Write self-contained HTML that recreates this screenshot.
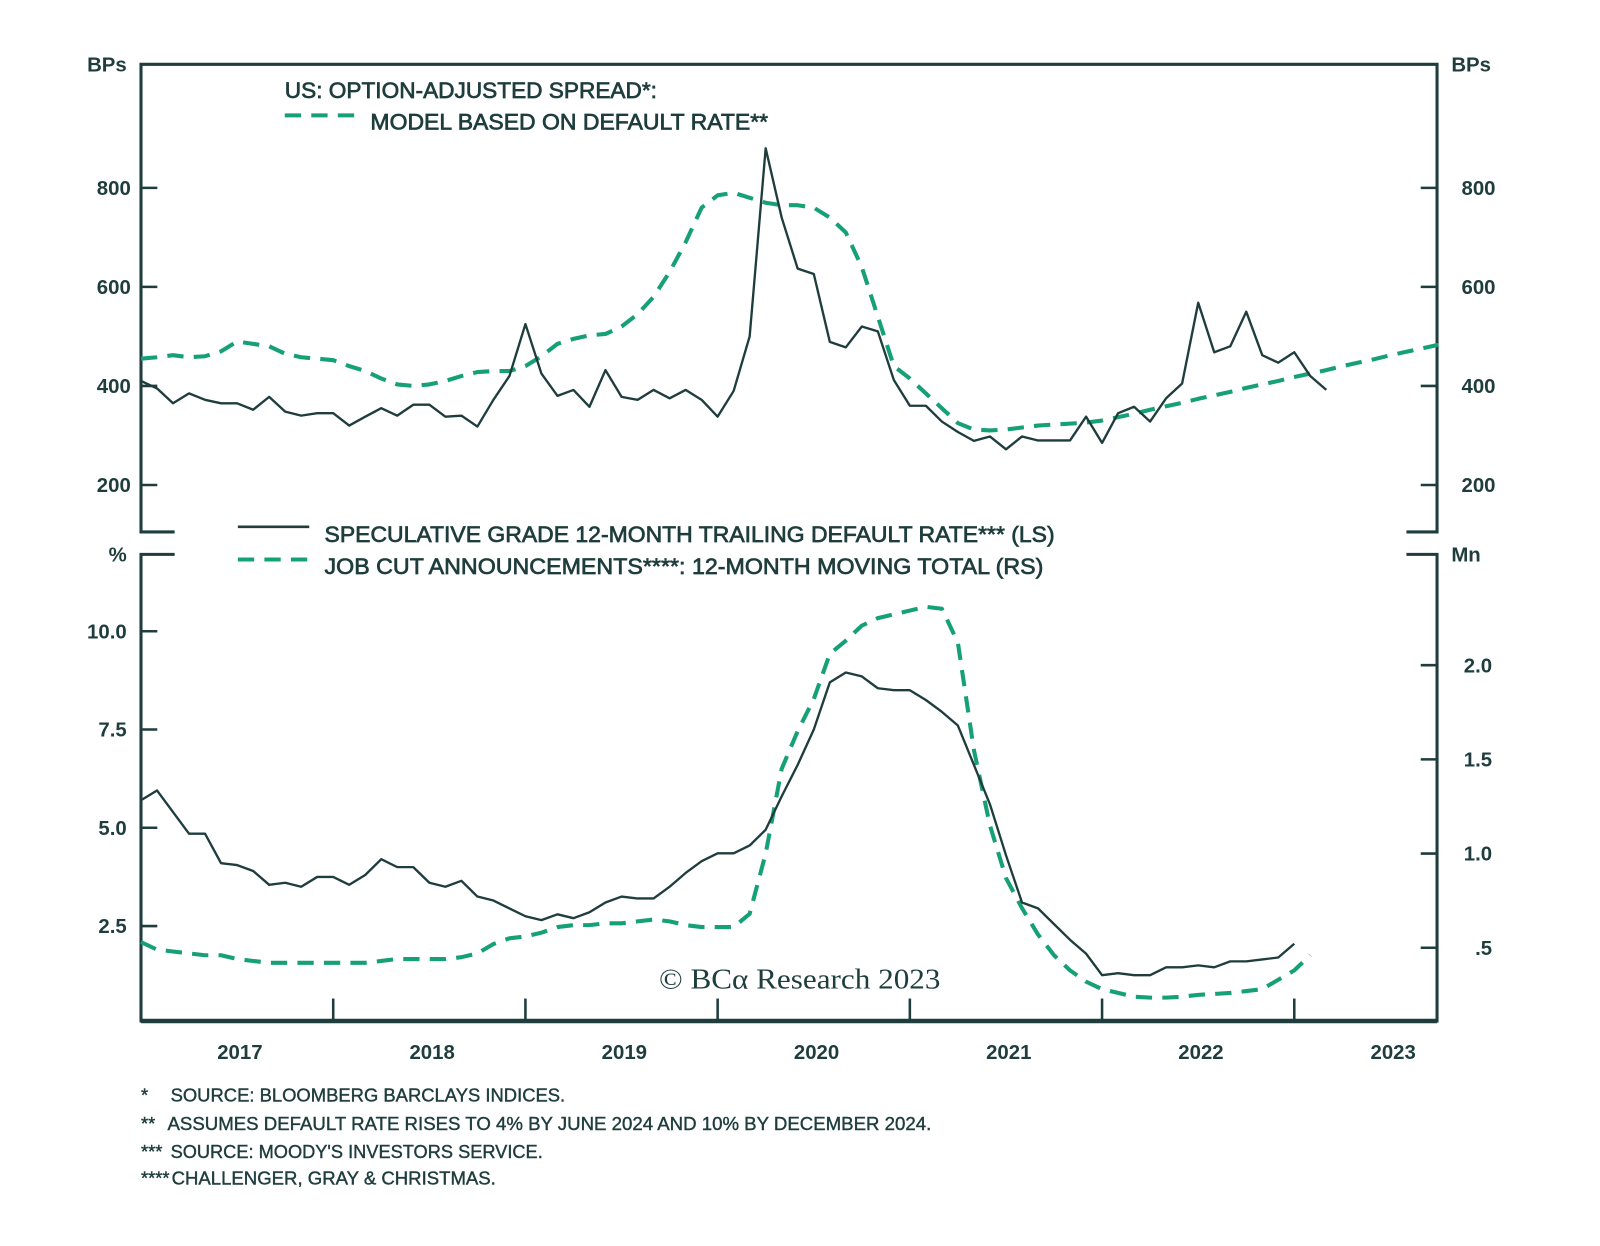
<!DOCTYPE html>
<html><head><meta charset="utf-8"><style>
html,body{margin:0;padding:0;background:#fff;}
svg{display:block;}
text{font-family:"Liberation Sans",sans-serif;fill:#1f3d3d;}
.tick{font-weight:bold;font-size:20px;}
.leg{font-size:22px;stroke:#1f3d3d;stroke-width:0.7px;}
.fn{font-size:18px;stroke:#1f3d3d;stroke-width:0.4px;}
</style></head><body>
<svg id="chart" width="1600" height="1246" viewBox="0 0 1600 1246" xmlns="http://www.w3.org/2000/svg">
<g id="root" transform="translate(1.3,0) scale(1.0197,1.021)">
<g id="frame" stroke="#1f3d3d" fill="none" stroke-width="3">
<path d="M170,521 H137 V63 H1408 V521 H1378"/>
<path d="M170,543 H137 V1000 H1408 V543 H1378"/>
<line x1="137" y1="1000" x2="1408" y2="1000" stroke-width="4.5"/>
</g>
<g id="ticks" stroke="#1f3d3d" stroke-width="2.5"></g>
<g id="labels"></g>
<g id="series"></g>
<text class="leg" x="278" y="96" textLength="365" lengthAdjust="spacingAndGlyphs">US: OPTION-ADJUSTED SPREAD*:</text>
<line x1="278" y1="113" x2="350" y2="113" stroke="#16a077" stroke-width="4" stroke-dasharray="16 10"/>
<text class="leg" x="362" y="127" textLength="390" lengthAdjust="spacingAndGlyphs">MODEL BASED ON DEFAULT RATE**</text>
<line x1="232" y1="516" x2="302" y2="516" stroke="#1f3d3d" stroke-width="2.5"/>
<text class="leg" x="317" y="531" textLength="716" lengthAdjust="spacingAndGlyphs">SPECULATIVE GRADE 12-MONTH TRAILING DEFAULT RATE*** (LS)</text>
<line x1="232" y1="548" x2="302" y2="548" stroke="#16a077" stroke-width="4" stroke-dasharray="16 10"/>
<text class="leg" x="317" y="562" textLength="705" lengthAdjust="spacingAndGlyphs">JOB CUT ANNOUNCEMENTS****: 12-MONTH MOVING TOTAL (RS)</text>
<text x="645" y="968" style="font-family:'Liberation Serif',serif;font-size:28px" textLength="276" lengthAdjust="spacingAndGlyphs">© BCα Research 2023</text>
<g>
<text class="fn" x="137" y="1079">*</text>
<text class="fn" x="166" y="1079" textLength="387" lengthAdjust="spacingAndGlyphs">SOURCE: BLOOMBERG BARCLAYS INDICES.</text>
<text class="fn" x="137" y="1107">**</text>
<text class="fn" x="163" y="1107" textLength="749" lengthAdjust="spacingAndGlyphs">ASSUMES DEFAULT RATE RISES TO 4% BY JUNE 2024 AND 10% BY DECEMBER 2024.</text>
<text class="fn" x="137" y="1134">***</text>
<text class="fn" x="166" y="1134" textLength="365" lengthAdjust="spacingAndGlyphs">SOURCE: MOODY'S INVESTORS SERVICE.</text>
<text class="fn" x="137" y="1160">****</text>
<text class="fn" x="167" y="1160" textLength="318" lengthAdjust="spacingAndGlyphs">CHALLENGER, GRAY &amp; CHRISTMAS.</text>
</g>
</g>
</svg>
<script>
const spreadOAS = [410,395,365,385,372,365,365,352,378,348,340,345,345,320,338,355,340,362,362,338,340,318,372,420,525,425,380,392,358,432,378,372,392,375,392,372,338,390,500,880,740,637,626,489,478,520,510,412,360,360,328,307,289,298,272,298,290,290,290,338,285,345,358,328,375,405,568,468,480,550,462,447,468,420,392];
const spreadModel = [455,458,462,458,460,470,490,485,480,465,458,455,452,440,430,415,403,400,403,410,420,428,430,430,440,460,485,495,502,505,520,545,580,630,690,760,785,790,780,770,765,765,760,740,710,640,540,440,415,385,355,325,312,310,312,316,320,322,324,326,330,337,344,352,359,366,374,381,388,396,403,410,418,425,432,440,447,454,462,469,476,483];
const defaultRate = [5.7,5.95,5.4,4.85,4.85,4.1,4.05,3.9,3.55,3.6,3.5,3.75,3.75,3.55,3.8,4.2,4.0,4.0,3.6,3.5,3.65,3.25,3.15,2.95,2.75,2.65,2.8,2.7,2.85,3.1,3.25,3.2,3.2,3.5,3.85,4.15,4.35,4.35,4.55,4.95,5.8,6.6,7.5,8.7,8.95,8.85,8.55,8.5,8.5,8.25,7.95,7.6,6.6,5.6,4.3,3.1,2.95,2.55,2.15,1.8,1.25,1.3,1.25,1.25,1.45,1.45,1.5,1.45,1.6,1.6,1.65,1.7,2.05];
const jobCuts = [0.53,0.49,0.48,0.47,0.46,0.46,0.44,0.43,0.42,0.42,0.42,0.42,0.42,0.42,0.42,0.43,0.44,0.44,0.44,0.44,0.45,0.47,0.52,0.55,0.56,0.58,0.61,0.62,0.62,0.63,0.63,0.64,0.65,0.64,0.62,0.61,0.61,0.61,0.68,1.0,1.45,1.65,1.82,2.06,2.13,2.21,2.25,2.27,2.29,2.31,2.30,2.12,1.55,1.15,0.87,0.71,0.57,0.46,0.38,0.32,0.28,0.26,0.24,0.235,0.235,0.24,0.25,0.255,0.26,0.27,0.28,0.33,0.38,0.46];
const topTicks = [200,400,600,800];
const leftTicks = [2.5,5.0,7.5,10.0];
const rightTicks = [0.5,1.0,1.5,2.0];
const rightTickLabels = [".5","1.0","1.5","2.0"];
const years = [2017,2018,2019,2020,2021,2022,2023];

const NS="http://www.w3.org/2000/svg";
const xM = i => 137 + i*(188.5/12);
const xYear = y => 137 + (y-2017)*188.5;
const yTop = v => 378 - (v-400)*0.485;
const yLeft = v => 907 - (v-2.5)*38.5;
const yRight = v => 836 - (v-1)*184.5;
function mk(tag, attrs, parent){const e=document.createElementNS(NS,tag);for(const k in attrs)e.setAttribute(k,attrs[k]);parent.appendChild(e);return e;}
const ticksG=document.getElementById('ticks'), labG=document.getElementById('labels'), serG=document.getElementById('series');
function txt(s,x,y,anchor,name){const t=mk('text',{x:x,y:y,'text-anchor':anchor,class:'tick'},labG);t.textContent=s;


return t;}
topTicks.forEach(v=>{
  const y=yTop(v);
  const a=mk('line',{x1:137,y1:y,x2:153,y2:y},ticksG);
  
  
  const b=mk('line',{x1:1392,y1:y,x2:1408,y2:y},ticksG);
  
  
  txt(String(v),127,y+7,'end','left-top-tick-label');
  txt(String(v),1432,y+7,'start','right-top-tick-label');
});
leftTicks.forEach(v=>{
  const y=yLeft(v);
  const a=mk('line',{x1:137,y1:y,x2:153,y2:y},ticksG);
  
  
  txt(v.toFixed(1),123,y+7,'end','left-bottom-tick-label');
});
rightTicks.forEach((v,i)=>{
  const y=yRight(v);
  const a=mk('line',{x1:1392,y1:y,x2:1408,y2:y},ticksG);
  
  
  txt(rightTickLabels[i],1462,y+7,'end','right-bottom-tick-label');
});
years.forEach(yr=>{
  const x=xYear(yr);
  if(x<1400){const a=mk('line',{x1:x,y1:978,x2:x,y2:1000},ticksG);
  
  }
  txt(String(yr),xYear(yr)+97,1037,'middle','year-label');
});
txt('BPs',123,70,'end','left-top-axis-unit');
txt('BPs',1422,70,'start','right-top-axis-unit');
txt('%',123,550,'end','left-bottom-axis-unit');
txt('Mn',1422,550,'start','right-bottom-axis-unit');
function line(arr,yf,style,name){
  const d=arr.map((v,i)=>(i?'L':'M')+xM(i).toFixed(1)+','+yf(v).toFixed(1)).join(' ');
  const p=mk('path',Object.assign({d:d,fill:'none','stroke-linejoin':'round'},style),serG);
  
  
}
const dash={stroke:'#16a077','stroke-width':4,'stroke-dasharray':'16 10'};
const solid={stroke:'#1f3d3d','stroke-width':2.3};
line(spreadModel,yTop,dash,'model-spread-line');
line(spreadOAS,yTop,solid,'option-adjusted-spread-line');
line(jobCuts,yRight,dash,'job-cuts-line');
line(defaultRate,yLeft,solid,'default-rate-line');
</script>
</body></html>
